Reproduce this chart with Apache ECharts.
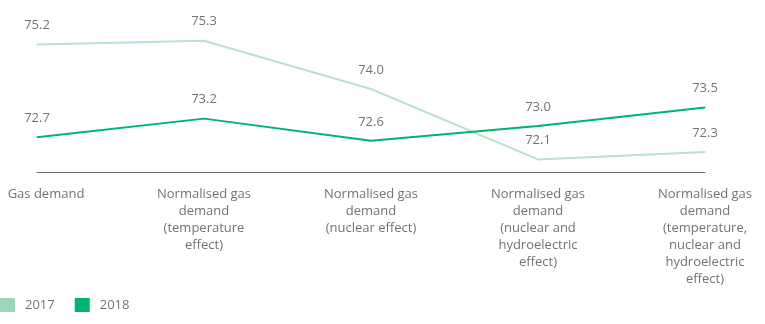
<!DOCTYPE html>
<html>
<head>
<meta charset="utf-8">
<script src="https://cdn.jsdelivr.net/npm/echarts@6/dist/echarts.min.js"></script>
<style>
html,body{margin:0;padding:0;background:#fff;}
#chart{width:765px;height:324px;}
</style>
</head>
<body>
<div id="chart"></div>
<script>
var categories = [
  'Gas demand',
  'Normalised gas\ndemand\n(temperature\neffect)',
  'Normalised gas\ndemand\n(nuclear effect)',
  'Normalised gas\ndemand\n(nuclear and\nhydroelectric\neffect)',
  'Normalised gas\ndemand\n(temperature,\nnuclear and\nhydroelectric\neffect)'
];
var values2017 = [75.2, 75.3, 74.0, 72.1, 72.3];
var values2018 = [72.7, 73.2, 72.6, 73.0, 73.5];
var seriesNames = ['2017', '2018'];

var FONT = '"Open Sans", "Noto Sans", sans-serif';
var TXT = '#737373';

var chart = echarts.init(document.getElementById('chart'), null, {renderer: 'canvas'});
var catData = categories.map(function (c, i) {
  if (i === 0) return {value: c, textStyle: {padding: [0, 0, 0, 18]}};
  return c;
});
var labelCfg = {show: true, position: 'top', distance: 12, color: TXT, fontFamily: FONT, fontSize: 13,
  formatter: function (p) { return p.value.toFixed(1); }};
chart.setOption({
  animation: false,
  backgroundColor: '#fff',
  grid: {left: 37, right: 60, top: 0, bottom: 152, containLabel: false, outerBoundsMode: 'none'},
  legend: {
    left: 0, bottom: 12, padding: 0,
    icon: 'rect', itemWidth: 15, itemHeight: 14, itemGap: 20,
    textStyle: {color: TXT, fontFamily: FONT, fontSize: 13, padding: [0, 0, 0, 5]},
    data: seriesNames
  },
  xAxis: {
    type: 'category',
    boundaryGap: false,
    data: catData,
    axisLine: {lineStyle: {color: '#6e6e6e', width: 1}},
    axisTick: {show: false},
    axisLabel: {color: TXT, fontFamily: FONT, fontSize: 13, lineHeight: 17, margin: 14, interval: 0}
  },
  yAxis: {
    type: 'value', min: 71.76, max: 76.40, show: false,
    splitLine: {show: false}
  },
  series: [
    {
      name: seriesNames[0], type: 'line', data: values2017,
      showSymbol: true, symbol: 'circle', symbolSize: 1,
      itemStyle: {color: '#9ed5b7'},
      lineStyle: {color: '#b9e1cb', width: 2},
      label: labelCfg
    },
    {
      name: seriesNames[1], type: 'line', data: values2018,
      showSymbol: true, symbol: 'circle', symbolSize: 1,
      itemStyle: {color: '#00b46e'},
      lineStyle: {color: '#00b46e', width: 2},
      label: labelCfg
    }
  ]
});
</script>
</body>
</html>
